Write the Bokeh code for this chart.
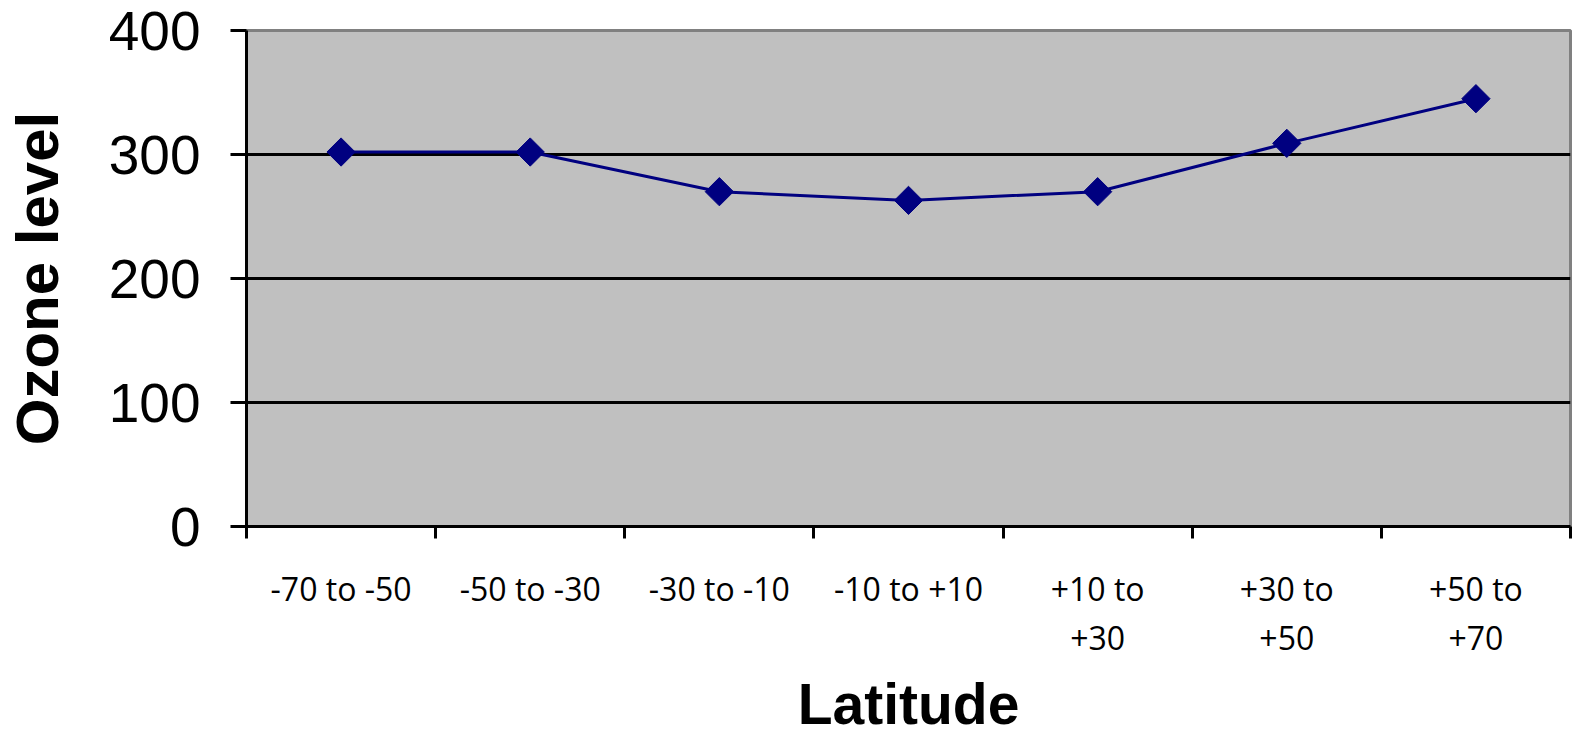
import numpy as np
from bokeh.plotting import figure
from bokeh.models import FixedTicker, Range1d, ColumnDataSource
from bokeh.embed import file_html
from bokeh.resources import INLINE

# Data
categories = ["-70 to -50", "-50 to -30", "-30 to -10", "-10 to +10",
              "+10 to\n+30", "+30 to\n+50", "+50 to\n+70"]
ozone = [302, 302, 270, 263, 270, 309, 345]
y_ticks = [0, 100, 200, 300, 400]

xpos = [i + 0.5 for i in range(len(categories))]
src = ColumnDataSource(dict(x=xpos, y=ozone))

p = figure(width=1575, height=739, output_backend="svg", toolbar_location=None,
           x_range=Range1d(0, len(categories)), y_range=Range1d(0, 400))
p.min_border_left = 246
p.min_border_right = 5
p.min_border_top = 30
p.min_border_bottom = 213
p.background_fill_color = "#C0C0C0"
p.border_fill_color = "white"
p.outline_line_color = "#808080"
p.outline_line_width = 3

# grid
p.xgrid.visible = False
p.ygrid.ticker = FixedTicker(ticks=[100, 200, 300])
p.ygrid.grid_line_color = "black"
p.ygrid.grid_line_width = 3

# x axis
xa = p.xaxis[0]
xa.ticker = FixedTicker(ticks=xpos, minor_ticks=list(range(len(categories) + 1)))
xa.major_label_overrides = {x: c for x, c in zip(xpos, categories)}
xa.major_tick_out = 0
xa.major_tick_in = 0
xa.minor_tick_out = 12
xa.minor_tick_in = 0
xa.minor_tick_line_width = 3
xa.minor_tick_line_color = "black"
xa.axis_line_width = 3
xa.axis_line_color = "black"
xa.major_label_text_font = "Open Sans"
xa.major_label_text_font_size = "32px"
xa.major_label_text_color = "black"
xa.major_label_text_line_height = 1.15
xa.major_label_standoff = 28
xa.axis_label = "Latitude"
xa.axis_label_text_font = "Liberation Sans"
xa.axis_label_text_font_style = "bold"
xa.axis_label_text_font_size = "57px"
xa.axis_label_text_color = "black"
xa.axis_label_text_line_height = 0.95
xa.axis_label_standoff = 10

# y axis
ya = p.yaxis[0]
ya.ticker = FixedTicker(ticks=y_ticks, minor_ticks=[])
ya.major_tick_out = 16
ya.major_tick_in = 0
ya.major_tick_line_width = 3
ya.axis_line_width = 3
ya.axis_line_color = "black"
ya.major_label_text_font = "Liberation Sans"
ya.major_label_text_font_size = "55px"
ya.major_label_text_color = "black"
ya.major_label_standoff = 30
ya.axis_label = "Ozone level"
ya.axis_label_text_font = "Liberation Sans"
ya.axis_label_text_font_style = "bold"
ya.axis_label_text_font_size = "60px"
ya.axis_label_text_color = "black"
ya.axis_label_standoff = 35

p.line("x", "y", source=src, line_color="#000080", line_width=3)
p.scatter("x", "y", source=src, marker="square", angle=np.pi / 4, size=20,
          fill_color="#000080", line_color="#000080")

open("out.html", "w").write(file_html(p, INLINE))
